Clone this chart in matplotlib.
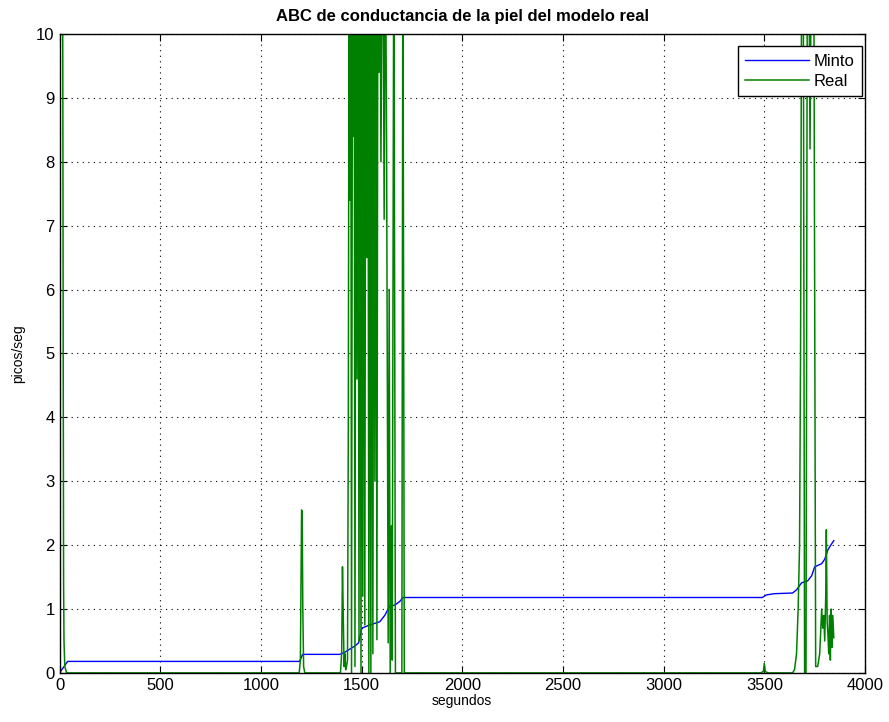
import matplotlib
matplotlib.use("Agg")
import matplotlib.pyplot as plt

plt.rcParams['font.family'] = ['Liberation Sans', 'DejaVu Sans']

# Minto (blue) model
minto_x = [0, 40, 1192, 1207, 1392, 1420, 1466, 1485, 1501, 1540, 1590, 1615, 1640, 1665,
           1690, 1705, 3490, 3510, 3550, 3640, 3660, 3685, 3715, 3735, 3750, 3785, 3800,
           3815, 3830, 3845]
minto_y = [0.0, 0.18, 0.18, 0.29, 0.29, 0.33, 0.42, 0.47, 0.70, 0.75, 0.80, 0.90, 1.05, 1.06,
           1.12, 1.18, 1.18, 1.22, 1.24, 1.25, 1.30, 1.41, 1.44, 1.52, 1.66, 1.71, 1.78,
           1.92, 2.00, 2.07]

# Real (green) signal
real_x = [0, 3, 14, 16, 17, 18, 19, 20, 22, 26, 35, 1190, 1196, 1199, 1202, 1205, 1208, 1212, 1218,
          1395, 1401, 1405, 1409, 1413, 1417, 1421, 1425,
          1430, 1434, 1438, 1442, 1446, 1450, 1455, 1459, 1463, 1467, 1472, 1477, 1482, 1487,
          1492, 1497, 1502, 1506, 1511, 1516, 1521, 1526, 1531, 1536, 1541, 1546, 1551, 1556,
          1561, 1566, 1571, 1576, 1581, 1586, 1591, 1596, 1601, 1606, 1612, 1618, 1624, 1632,
          1637, 1642, 1648, 1652, 1660, 1668, 1700, 1705, 1712,
          3480, 3495, 3500, 3505, 3520, 3640, 3650, 3660, 3668, 3675, 3680, 3686, 3693, 3700,
          3707, 3714, 3720, 3727, 3735, 3745, 3755, 3765, 3775, 3785, 3790, 3795, 3800, 3805,
          3808, 3812, 3816, 3820, 3824, 3828, 3832, 3836, 3840, 3845]
real_y = [0.0, 12, 12, 9.6, 7.6, 5.0, 3.4, 1.4, 0.5, 0.1, 0.0, 0.0, 0.2, 1.4, 2.55, 2.5, 1.0, 0.1, 0.0,
          0.0, 0.3, 1.66, 0.9, 0.1, 0.3, 0.05, 0.1,
          0.2, 3.8, 12, 7.4, 12, 0.0, 12, 8.4, 12, 0.1, 12, 4.6, 12, 0.5,
          12, 0.0, 12, 1.2, 12, 0.75, 12, 6.5, 12, 0.0, 12, 0.0, 12, 0.3,
          12, 3.0, 12, 0.52, 12, 9.4, 12, 8.0, 10.5, 12, 7.1, 12, 8.3, 0.47,
          6.0, 0.0, 2.3, 0.2, 12, 0.0, 0.0, 12, 0.0,
          0.0, 0.02, 0.15, 0.02, 0.0, 0.0, 0.05, 0.3, 1.0, 2.0, 5.0, 12, 12, 0.0,
          0.0, 12, 12, 8.2, 12, 12, 0.1, 0.1, 0.3, 1.0, 0.7, 0.9, 0.5, 1.2,
          2.24, 0.8, 0.6, 0.3, 0.9, 0.2, 1.0, 0.4, 0.9, 0.55]

fig = plt.figure(figsize=(8.89, 7.22), dpi=100)
ax = fig.add_axes([0.067, 0.068, 0.906, 0.885])

ax.plot(minto_x, minto_y, color=(0, 0, 1), linewidth=1.0, label='Minto')
ax.plot(real_x, real_y, color=(0, 0.5, 0), linewidth=1.1, label='Real')

ax.set_xlim(0, 4000)
ax.set_ylim(0, 10)
ax.set_xticks(range(0, 4001, 500))
ax.set_yticks(range(0, 11, 1))
ax.grid(True, linestyle=(0, (1, 4)), color='black', linewidth=0.8)
ax.tick_params(direction='in', top=True, right=True, labelsize=12, length=5, width=0.8)
for s in ax.spines.values():
    s.set_linewidth(1.0)
    s.set_color('black')

ax.set_title('ABC de conductancia de la piel del modelo real', fontsize=12,
             fontweight='bold', pad=9)
ax.set_xlabel('segundos', fontsize=10, labelpad=1)
ax.set_ylabel('picos/seg', fontsize=10, labelpad=8)

leg = ax.legend(loc='upper right', bbox_to_anchor=(0.9963, 0.981), fontsize=12,
                fancybox=False, framealpha=1, edgecolor='black', handlelength=3.8,
                borderaxespad=0.0, handletextpad=0.3, labelspacing=0.3, borderpad=0.45)
leg.get_frame().set_linewidth(1.0)

fig.savefig('out.png', dpi=100, facecolor='white')
